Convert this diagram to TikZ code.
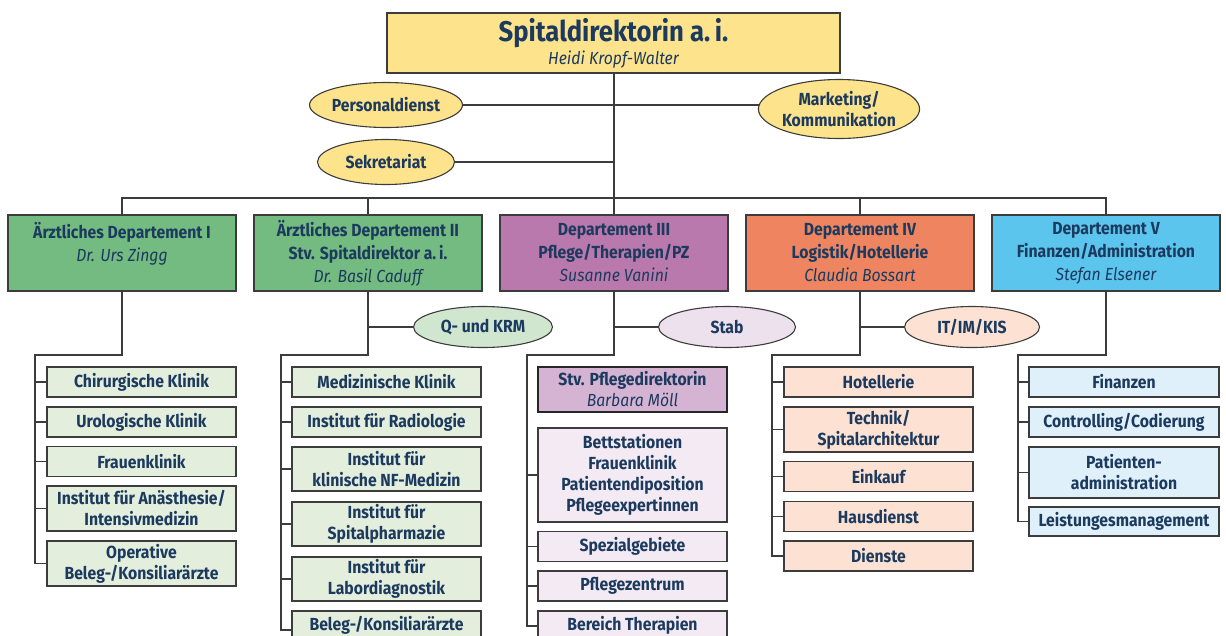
\documentclass[tikz,border=0pt]{standalone}
\usepackage{fontspec}
\setmainfont{Fira Sans}[FakeStretch=0.9]
\usetikzlibrary{shapes.geometric,backgrounds}
\definecolor{txt}{HTML}{1C3A5E}
\definecolor{bord}{HTML}{3C3C3C}
\definecolor{cyel}{HTML}{FCE38C}
\definecolor{cgreen}{HTML}{73BB81}
\definecolor{cpurp}{HTML}{B979AD}
\definecolor{corng}{HTML}{EE8560}
\definecolor{cblue}{HTML}{5CC5EE}
\definecolor{lgreen}{HTML}{E3EEDD}
\definecolor{lpurp}{HTML}{F3EAF3}
\definecolor{mpurp}{HTML}{D5B3D3}
\definecolor{lorng}{HTML}{FDE2D3}
\definecolor{lblue}{HTML}{DFF0FB}
\definecolor{egreen}{HTML}{D0E6CF}
\definecolor{epurp}{HTML}{EDE1EE}
\newcommand{\pname}[1]{{\mdseries\itshape #1}}
\tikzset{
  box/.style={draw=bord, line width=1.2pt, rectangle, inner sep=0pt, align=center, text=txt},
  dept/.style={box, minimum width=228pt, minimum height=76pt, font=\fontsize{17.5}{23}\selectfont\bfseries},
  sub/.style={box, font=\fontsize{17.5}{21}\selectfont\bfseries},
  subtext/.style={text=txt, inner sep=0pt, anchor=north, font=\fontsize{17.5}{21}\selectfont\bfseries},
  oval/.style={draw=bord, line width=1.1pt, ellipse, inner sep=0pt, align=center, text=txt, font=\fontsize{17.5}{21}\selectfont\bfseries},
  conn/.style={draw=bord, line width=1.3pt}
}
\begin{document}
\begin{tikzpicture}[x=1pt,y=-1pt]
\useasboundingbox (0,0) rectangle (1226,635);
\clip (0,0) rectangle (1226,635);
% top
\node[box, fill=cyel, minimum width=453pt, minimum height=60pt] (top) at (613.5,43) {};
\node[text=txt, font=\fontsize{28.5}{30}\selectfont\bfseries] (toptitle) at (613.5,33) {Spitaldirektorin a.\,i.};
\node[text=txt, font=\fontsize{17.5}{20}\selectfont\itshape] (topname) at (613.5,60) {Heidi Kropf-Walter};
% staff ovals
\node[oval, fill=cyel, minimum width=137pt, minimum height=45pt] (pers) at (386,105) {Personaldienst};
\node[oval, fill=cyel, minimum width=158pt, minimum height=59pt] (mark) at (839,109) {Marketing/\\Kommunikation};
\node[oval, fill=cyel, minimum width=137pt, minimum height=45pt] (sekr) at (386,162) {Sekretariat};
% departments
\node[dept, fill=cgreen] (d1) at (122,253) {Ärztliches Departement I\\ \pname{Dr. Urs Zingg}\\ \mbox{}};
\node[dept, fill=cgreen] (d2) at (368,253) {Ärztliches Departement II\\Stv. Spitaldirektor a.\,i.\\ \pname{Dr. Basil Caduff}};
\node[dept, fill=cpurp] (d3) at (614,253) {Departement III\\Pflege/Therapien/PZ\\ \pname{Susanne Vanini}};
\node[dept, fill=corng] (d4) at (860,253) {Departement IV\\Logistik/Hotellerie\\ \pname{Claudia Bossart}};
\node[dept, fill=cblue] (d5) at (1106,253) {Departement V\\Finanzen/Administration\\ \pname{Stefan Elsener}};
% dept ovals
\node[oval, fill=egreen, minimum width=139pt, minimum height=41pt] (qkrm) at (483,327) {Q- und KRM};
\node[oval, fill=epurp, minimum width=137pt, minimum height=41pt] (stab) at (727,327) {Stab};
\node[oval, fill=lorng, minimum width=135pt, minimum height=41pt] (itim) at (972,327) {IT/IM/KIS};
% dept I children
\tikzset{sI/.style={sub, fill=lgreen, minimum width=189pt}}
\node[sI, minimum height=30pt] (a1) at (141.5,382) {Chirurgische Klinik};
\node[sI, minimum height=30pt] (a2) at (141.5,422) {Urologische Klinik};
\node[sI, minimum height=30pt] (a3) at (141.5,461.5) {Frauenklinik};
\node[sI, minimum height=45pt] (a4) at (141.5,508.5) {Institut für Anästhesie/\\Intensivmedizin};
\node[sI, minimum height=45pt] (a5) at (141.5,563.5) {Operative\\Beleg-/Konsiliarärzte};
% dept II children
\node[sI, minimum height=30pt] (b1) at (386.5,382) {Medizinische Klinik};
\node[sI, minimum height=30pt] (b2) at (386.5,422) {Institut für Radiologie};
\node[sI, minimum height=44pt] (b3) at (386.5,469) {Institut für\\klinische NF-Medizin};
\node[sI, minimum height=44pt] (b4) at (386.5,524) {Institut für\\Spitalpharmazie};
\node[sI, minimum height=44pt] (b5) at (386.5,579) {Institut für\\Labordiagnostik};
\node[sI, minimum height=42pt] (b6) at (386.5,632) {};
\node[subtext] (b6t) at (386.5,616) {Beleg-/Konsiliarärzte};
% dept III children
\tikzset{sIII/.style={sub, fill=lpurp, minimum width=189pt}}
\node[sub, fill=mpurp, minimum width=189pt, minimum height=45pt, line width=1.6pt, draw=black!85] (c0) at (632.5,389.5) {Stv. Pflegedirektorin\\ \pname{Barbara Möll}};
\node[sIII, minimum height=94pt] (c1) at (632.5,475) {Bettstationen\\Frauenklinik\\Patientendiposition\\Pflegeexpertinnen};
\node[sIII, minimum height=30pt] (c2) at (632.5,546.5) {Spezialgebiete};
\node[sIII, minimum height=30pt] (c3) at (632.5,586) {Pflegezentrum};
\node[sIII, minimum height=42pt] (c4) at (632.5,632) {};
\node[subtext] (c4t) at (632.5,616) {Bereich Therapien};
% dept IV children
\tikzset{sIV/.style={sub, fill=lorng, minimum width=189pt}}
\node[sIV, minimum height=30pt] (e1) at (878.5,382) {Hotellerie};
\node[sIV, minimum height=45pt] (e2) at (878.5,429.5) {Technik/\\Spitalarchitektur};
\node[sIV, minimum height=30pt] (e3) at (878.5,476.5) {Einkauf};
\node[sIV, minimum height=30pt] (e4) at (878.5,516.5) {Hausdienst};
\node[sIV, minimum height=30pt] (e5) at (878.5,556) {Dienste};
% dept V children
\tikzset{sV/.style={sub, fill=lblue, minimum width=190pt}}
\node[sV, minimum height=30pt] (f1) at (1124,382) {Finanzen};
\node[sV, minimum height=30pt] (f2) at (1124,422) {Controlling/Codierung};
\node[sV, minimum height=51pt] (f3) at (1124,472.5) {Patienten-\\administration};
\node[sV, minimum height=29pt] (f4) at (1124,521.5) {Leistungesmanagement};
% connectors
\coordinate (bus) at (614,198);
\coordinate (k1) at (35,355);
\coordinate (k2) at (281,355);
\coordinate (k3) at (527,355);
\coordinate (k4) at (772,355);
\coordinate (k5) at (1018,355);
\begin{pgfonlayer}{background}
\draw[conn] (top.south -| bus) -- (d3.north);
\draw[conn] (pers) -- (pers -| mark);
\draw[conn] (sekr) -- (sekr -| bus);
\draw[conn] (d1.north) |- (bus) -| (d5.north);
\draw[conn] (d2.north) -- (d2.north |- bus);
\draw[conn] (d4.north) -- (d4.north |- bus);
% I
\draw[conn] (d1.south) |- (k1) |- (a5.west);
\foreach \n in {a1,a2,a3,a4} \draw[conn] (k1 |- \n.west) -- (\n.west);
% II
\draw[conn] (d2.south) |- (k2) -- (k2 |- 0,630) -- (b6.west |- 0,630);
\draw[conn] (d2.south |- qkrm) -- (qkrm);
\foreach \n in {b1,b2,b3,b4,b5} \draw[conn] (k2 |- \n.west) -- (\n.west);
% III
\draw[conn] (d3.south) |- (k3) -- (k3 |- 0,626) -- (c4.west |- 0,626);
\draw[conn] (d3.south |- stab) -- (stab);
\foreach \n in {c1,c2,c3} \draw[conn] (k3 |- \n.west) -- (\n.west);
% IV
\draw[conn] (d4.south) |- (k4) |- (e5.west);
\draw[conn] (d4.south |- itim) -- (itim);
\foreach \n in {e1,e2,e3,e4} \draw[conn] (k4 |- \n.west) -- (\n.west);
% V
\draw[conn] (d5.south) |- (k5) |- (f4.west);
\foreach \n in {f1,f2,f3} \draw[conn] (k5 |- \n.west) -- (\n.west);
\end{pgfonlayer}
\end{tikzpicture}
\end{document}
